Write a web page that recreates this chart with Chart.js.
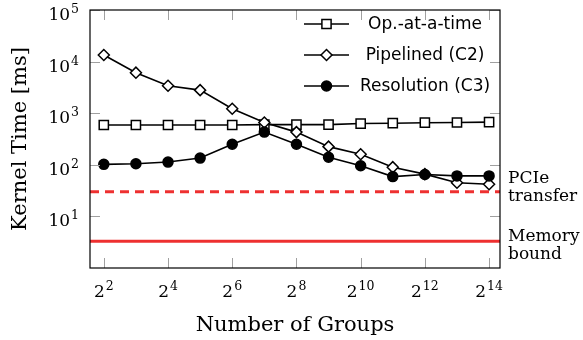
<!DOCTYPE html>
<html>
<head>
<meta charset="utf-8">
<script src="https://cdn.jsdelivr.net/npm/chart.js@4/dist/chart.umd.min.js"></script>
<style>
  html, body { margin: 0; padding: 0; background: #fff; }
  #grafico { display: block; }
</style>
</head>
<body>
<canvas id="grafico" width="583" height="340"></canvas>
<script>
// number of groups as powers of two
const expoentes = [2, 3, 4, 5, 6, 7, 8, 9, 10, 11, 12, 13, 14];
// kernel time [ms]
const opAtATime = [590, 590, 590, 590, 590, 600, 600, 600, 630, 640, 655, 660, 670];
const pipelined = [13400, 6100, 3400, 2800, 1220, 660, 430, 225, 160, 90, 66, 45, 42];
const resolution = [102, 105, 113, 135, 250, 430, 250, 140, 96, 59, 65, 61, 61];

const pcieTransfer = 30;
const memoryBound = 3.3;

const xTicks = [2, 4, 6, 8, 10, 12, 14];
const yTicks = [1, 2, 3, 4, 5];
const xMin = 1.57, xMax = 14.34;

const vermelho = 'rgb(238, 48, 48)';
const serif = '"DejaVu Serif", serif';
const sans = '"DejaVu Sans", sans-serif';

function pontos(valores) {
  return valores.map((v, i) => ({ x: expoentes[i], y: v }));
}

function linhaHorizontal(valor) {
  return [{ x: xMin, y: valor }, { x: xMax, y: valor }];
}

// base with superscript exponent, e.g. 10^3
function potencia(ctx, base, exp, x, y, align) {
  ctx.font = '17px ' + serif;
  const wb = ctx.measureText(base).width;
  ctx.font = '12.5px ' + serif;
  const we = ctx.measureText(String(exp)).width;
  let x0 = x;
  if (align === 'center') x0 = x - (wb + we + 1) / 2;
  if (align === 'right') x0 = x - (wb + we + 1);
  ctx.textAlign = 'left';
  ctx.textBaseline = 'alphabetic';
  ctx.font = '17px ' + serif;
  ctx.fillText(base, x0, y);
  ctx.font = '12.5px ' + serif;
  ctx.fillText(String(exp), x0 + wb + 1, y - 7);
}

const eixos = {
  id: 'eixos',
  afterDatasetsDraw(chart) {
    const { ctx, chartArea: a, scales: { x, y } } = chart;
    ctx.save();

    // tick marks
    ctx.strokeStyle = '#a0a0a0';
    ctx.lineWidth = 1;
    ctx.beginPath();
    xTicks.forEach((e) => {
      const px = Math.round(x.getPixelForValue(e)) + 0.5;
      ctx.moveTo(px, a.bottom); ctx.lineTo(px, a.bottom - 10);
      ctx.moveTo(px, a.top); ctx.lineTo(px, a.top + 10);
    });
    yTicks.forEach((e) => {
      const py = Math.round(y.getPixelForValue(Math.pow(10, e))) + 0.5;
      ctx.moveTo(a.left, py); ctx.lineTo(a.left + 10, py);
      ctx.moveTo(a.right, py); ctx.lineTo(a.right - 10, py);
    });
    ctx.stroke();

    // frame
    ctx.strokeStyle = '#000';
    ctx.lineWidth = 1.2;
    ctx.strokeRect(a.left, a.top, a.right - a.left, a.bottom - a.top);

    // tick labels
    ctx.fillStyle = '#000';
    xTicks.forEach((e) => {
      potencia(ctx, '2', e, x.getPixelForValue(e), a.bottom + 29, 'center');
    });
    yTicks.forEach((e) => {
      potencia(ctx, '10', e, a.left - 11, y.getPixelForValue(Math.pow(10, e)) + 10, 'right');
    });

    // axis titles
    ctx.font = '21px ' + serif;
    ctx.textAlign = 'center';
    ctx.textBaseline = 'alphabetic';
    ctx.fillText('Number of Groups', (a.left + a.right) / 2, 331);
    ctx.save();
    ctx.translate(26, (a.top + a.bottom) / 2);
    ctx.rotate(-Math.PI / 2);
    ctx.fillText('Kernel Time [ms]', 0, 0);
    ctx.restore();

    // labels of the red lines
    ctx.font = '17px ' + serif;
    ctx.textAlign = 'left';
    const yp = y.getPixelForValue(pcieTransfer);
    ctx.fillText('PCIe', a.right + 8, yp - 9);
    ctx.fillText('transfer', a.right + 8, yp + 9);
    const ym = y.getPixelForValue(memoryBound);
    ctx.fillText('Memory', a.right + 8, ym);
    ctx.fillText('bound', a.right + 8, ym + 18);

    // legend
    const series = [0, 1, 2];
    ctx.font = '17px ' + sans;
    ctx.textAlign = 'center';
    ctx.textBaseline = 'middle';
    series.forEach((i, k) => {
      const ds = chart.data.datasets[i];
      const ly = 24 + k * 31;
      ctx.strokeStyle = '#000';
      ctx.lineWidth = 1.6;
      ctx.beginPath();
      ctx.moveTo(304, ly); ctx.lineTo(349, ly);
      ctx.stroke();
      const ref = chart.getDatasetMeta(i).data[0];
      const p = new Chart.PointElement({ x: 326.5, y: ly, options: ref.options });
      p.draw(ctx);
      ctx.fillStyle = '#000';
      ctx.fillText(ds.label, 425, ly + 1);
    });

    ctx.restore();
  }
};

const serieBase = {
  borderColor: '#000',
  borderWidth: 1.6,
  pointBorderColor: '#000',
  pointBorderWidth: 1.5,
  fill: false,
  tension: 0,
};

const grafico = new Chart(document.getElementById('grafico'), {
  type: 'line',
  data: {
    datasets: [
      { ...serieBase, label: 'Op.-at-a-time', data: pontos(opAtATime), pointStyle: 'rect', pointRadius: 6.5, pointBackgroundColor: '#fff', order: 2 },
      { ...serieBase, label: 'Pipelined (C2)', data: pontos(pipelined), pointStyle: 'rectRot', pointRadius: 5.5, pointBackgroundColor: '#fff', order: 1 },
      { ...serieBase, label: 'Resolution (C3)', data: pontos(resolution), pointStyle: 'circle', pointRadius: 5, pointBackgroundColor: '#000', order: 0 },
      { label: 'PCIe transfer', data: linhaHorizontal(pcieTransfer), borderColor: vermelho, borderWidth: 3, borderDash: [9, 6], pointRadius: 0, order: 3 },
      { label: 'Memory bound', data: linhaHorizontal(memoryBound), borderColor: vermelho, borderWidth: 3, pointRadius: 0, order: 3 },
    ]
  },
  options: {
    responsive: false,
    animation: false,
    layout: { padding: { left: 90, top: 10, right: 83, bottom: 72 } },
    scales: {
      x: { type: 'linear', min: xMin, max: xMax, display: false },
      y: { type: 'logarithmic', min: 1, max: 100000, display: false },
    },
    plugins: {
      legend: { display: false },
      tooltip: { enabled: false },
    },
  },
  plugins: [eixos],
});
</script>
</body>
</html>
